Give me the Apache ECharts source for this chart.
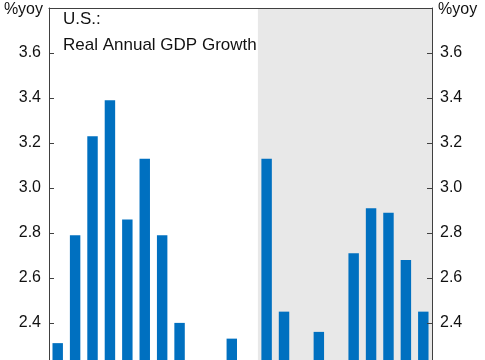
<!DOCTYPE html>
<html><head><meta charset="utf-8">
<script src="https://cdn.jsdelivr.net/npm/echarts@6/dist/echarts.min.js"></script>
<style>html,body{margin:0;padding:0;background:#fff}#c{width:485px;height:360px}</style>
</head><body><div id="c"></div>
<script>
const categories = ['2000','2001','2002','2003','2004','2005','2006','2007','2008','2009','2010','2011','2012','2013','2014','2015','2016','2017','2018','2019','2020','2021'];
const growth = [2.31,2.79,3.23,3.39,2.86,3.13,2.79,2.40,2.15,2.05,2.33,2.10,3.13,2.45,2.20,2.36,2.15,2.71,2.91,2.89,2.68,2.45];
const yMin = 2.235, yMax = 3.8;
const yTickLabels = ['2.4','2.6','2.8','3.0','3.2','3.4','3.6'];
const shadeStart = 12, shadeEnd = 22;
const titleText = 'U.S.:\nReal Annual GDP Growth';
const unitText = '%yoy';

const font = 'Arial, "Liberation Sans", sans-serif';
const axisColor = '#404040';
const chart = echarts.init(document.getElementById('c'));
const yAxisBase = {
  type: 'value', min: yMin, max: yMax, splitNumber: 8, minInterval: 0.2, maxInterval: 0.2,
  z: 10,
  axisLine: {show: true, lineStyle: {color: axisColor, width: 1}},
  axisTick: {show: true, inside: true, length: 5, lineStyle: {color: axisColor}},
  splitLine: {show: false},
  axisLabel: {fontSize: 16, color: '#111', fontFamily: font, margin: 8,
    formatter: v => { const s = v.toFixed(1); return (Math.abs(v - Number(s)) < 1e-6 && yTickLabels.includes(s)) ? s : ''; }}
};
chart.setOption({
  animation: false,
  grid: {left: 49, right: 53, top: 8, bottom: 0, containLabel: false},
  title: {text: titleText, left: 58, top: 1,
    textStyle: {fontSize: 17, fontWeight: 'normal', color: '#111', fontFamily: font, lineHeight: 26.5}},
  graphic: [
    {type: 'text', right: 442, top: 2, style: {text: unitText, fontSize: 16, fill: '#111', fontFamily: font}},
    {type: 'text', left: 438, top: 2, style: {text: unitText, fontSize: 16, fill: '#111', fontFamily: font}}
  ],
  xAxis: [
    {type: 'category', data: categories, position: 'bottom', axisLine: {show: false}, axisTick: {show: false}, axisLabel: {show: false}},
    {type: 'value', min: 0, max: categories.length, position: 'top', z: 10,
      axisLine: {show: true, onZero: false, lineStyle: {color: axisColor, width: 1}},
      axisTick: {show: false}, axisLabel: {show: false}, splitLine: {show: false}}
  ],
  yAxis: [
    Object.assign({}, yAxisBase, {position: 'left'}),
    Object.assign({}, yAxisBase, {position: 'right'})
  ],
  series: [
    {type: 'line', xAxisIndex: 1, yAxisIndex: 0, data: [], silent: true,
      markArea: {silent: true, itemStyle: {color: '#e8e8e8'},
        data: [[{xAxis: shadeStart, yAxis: yMin}, {xAxis: shadeEnd, yAxis: yMax}]]}},
    {type: 'bar', xAxisIndex: 0, yAxisIndex: 0, data: growth, barWidth: '60%', z: 5, clip: true,
      itemStyle: {color: '#0070c0'}}
  ]
});
</script></body></html>
